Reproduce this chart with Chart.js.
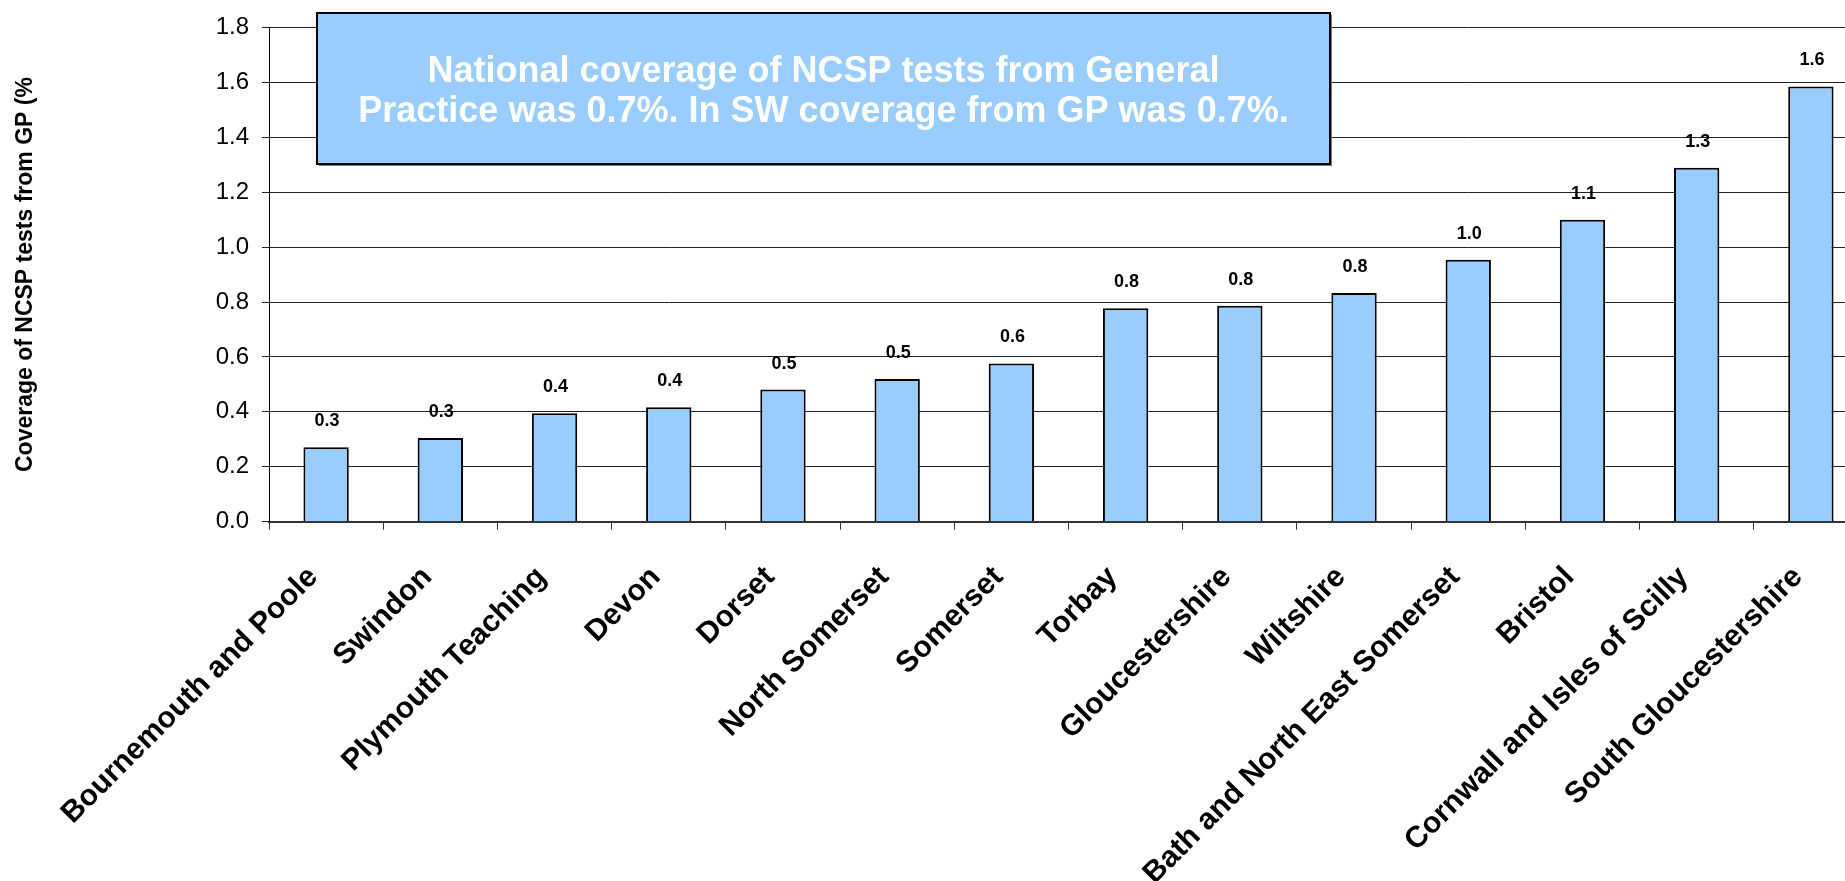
<!DOCTYPE html>
<html><head><meta charset="utf-8">
<script src="https://cdn.jsdelivr.net/npm/chart.js@4/dist/chart.umd.min.js"></script>
<style>
html,body{margin:0;padding:0;overflow:hidden;background:#fff;width:1845px;height:881px}
#wrap{position:absolute;left:0;top:0;width:1868px;height:881px}
</style>
</head><body><div id="wrap"><canvas id="c"></canvas></div>
<script>
const categories = ['Bournemouth and Poole','Swindon','Plymouth Teaching','Devon','Dorset','North Somerset','Somerset','Torbay','Gloucestershire','Wiltshire','Bath and North East Somerset','Bristol','Cornwall and Isles of Scilly','South Gloucestershire'];
const values = [0.271, 0.305, 0.395, 0.417, 0.481, 0.520, 0.576, 0.777, 0.786, 0.833, 0.954, 1.100, 1.289, 1.585];
const valueLabels = ['0.3','0.3','0.4','0.4','0.5','0.5','0.6','0.8','0.8','0.8','1.0','1.1','1.3','1.6'];
const yMin = 0, yMax = 1.8, yStep = 0.2;
const yAxisTitle = 'Coverage of NCSP tests from GP (%';
const noteLines = ['National coverage of NCSP tests from General', 'Practice was 0.7%. In SW coverage from GP was 0.7%.'];

const FONT = '"Liberation Sans", Arial, Helvetica, sans-serif';
const BLUE = '#99CCFF';

const valueLabelPlugin = {
  id: 'valueLabels',
  afterDatasetsDraw(chart) {
    const ctx = chart.ctx;
    const meta = chart.getDatasetMeta(0);
    ctx.save();
    ctx.font = 'bold 18px ' + FONT;
    ctx.fillStyle = '#000';
    ctx.textAlign = 'center';
    ctx.textBaseline = 'middle';
    meta.data.forEach((bar, i) => {
      ctx.fillText(valueLabels[i], bar.x + 1, bar.y - 26);
    });
    ctx.restore();
  }
};

const noteBoxPlugin = {
  id: 'noteBox',
  afterDraw(chart) {
    const ctx = chart.ctx;
    const x0 = 317, y0 = 13, x1 = 1330, y1 = 164;
    ctx.save();
    ctx.fillStyle = '#7a7a7a';
    ctx.fillRect(x0 + 2, y0 + 2, x1 - x0, y1 - y0);
    ctx.fillStyle = BLUE;
    ctx.fillRect(x0, y0, x1 - x0, y1 - y0);
    ctx.lineWidth = 2;
    ctx.strokeStyle = '#000';
    ctx.strokeRect(x0, y0, x1 - x0, y1 - y0);
    ctx.fillStyle = '#fff';
    ctx.font = 'bold 36px ' + FONT;
    ctx.textAlign = 'center';
    ctx.textBaseline = 'middle';
    const cx = (x0 + x1) / 2;
    ctx.fillText(noteLines[0], cx, 72);
    ctx.fillText(noteLines[1], cx, 112);
    ctx.restore();
  }
};

new Chart(document.getElementById('c'), {
  type: 'bar',
  data: {
    labels: categories,
    datasets: [{
      data: values,
      backgroundColor: BLUE,
      borderColor: '#000',
      borderWidth: 2,
      borderSkipped: 'bottom',
      barPercentage: 0.397,
      categoryPercentage: 1.0
    }]
  },
  options: {
    responsive: true,
    maintainAspectRatio: false,
    animation: false,
    devicePixelRatio: 1,
    layout: { padding: { top: 27, left: 12, right: 0, bottom: 0 } },
    plugins: { legend: { display: false }, tooltip: { enabled: false } },
    scales: {
      x: {
        grid: { offset: true, drawOnChartArea: false, drawTicks: true, tickLength: 8, color: '#333', lineWidth: 1 },
        border: { color: '#333', width: 2 },
        ticks: {
          color: '#000',
          font: { family: FONT, size: 30, weight: 'bold' },
          minRotation: 45, maxRotation: 45,
          autoSkip: false,
          padding: 30,
          labelOffset: -13
        },
        afterFit(s) { s.height = 881 - 521.7; }
      },
      y: {
        min: yMin, max: yMax,
        ticks: {
          stepSize: yStep,
          color: '#000',
          font: { family: FONT, size: 24 },
          padding: 13,
          callback: v => Number(v).toFixed(1)
        },
        grid: { color: '#222', lineWidth: 1, tickLength: 7 },
        border: { color: '#000', width: 1 },
        title: {
          display: true, text: yAxisTitle, color: '#000',
          font: { family: FONT, size: 23, weight: 'bold' },
          padding: 0
        },
        afterFit(s) { s.width = 257; }
      }
    }
  },
  plugins: [valueLabelPlugin, noteBoxPlugin]
});
</script>
</body></html>
